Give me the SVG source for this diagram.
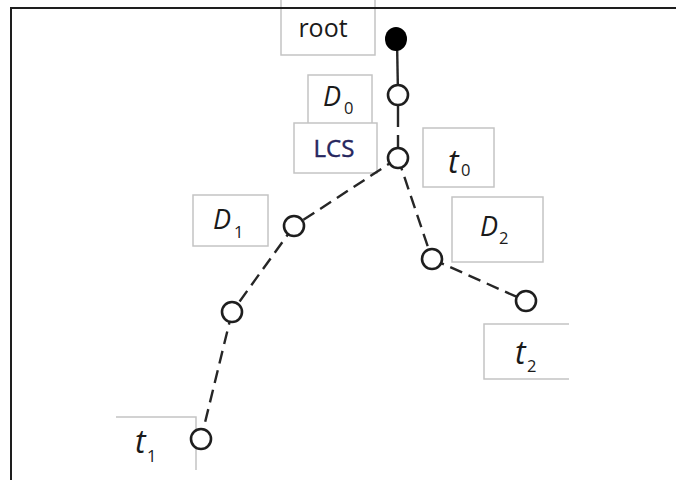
<svg xmlns="http://www.w3.org/2000/svg" width="676" height="480" viewBox="0 0 676 480">
<style>
.box{fill:#fff;stroke:#c4c4c4;stroke-width:1.5}
.open{fill:none;stroke:#c4c4c4;stroke-width:1.5}
.node{fill:#fff;stroke:#1e1e1e;stroke-width:2.6}
.edge{fill:none;stroke:#262626;stroke-width:2.4}
.dash{stroke-dasharray:13 7}
.lbl{font-family:"Open Sans","DejaVu Sans",sans-serif;fill:#1a1a1a}
.big{font-size:25px}
.D{font-size:27px;font-style:italic}
.t{font-size:32px;font-style:italic}
.sub{font-size:16.5px}
.lcs{font-size:24px;fill:#26265e;stroke:#26265e;stroke-width:0.4}
</style>
<rect width="676" height="480" fill="#fff"/>
<g id="root-label"><path class="open" d="M281,-2 V55 H375 V-2"/><text class="lbl big" x="323" y="37" text-anchor="middle">root</text></g>
<g id="D0-label"><rect class="box" x="308" y="75" width="64" height="60"/><text class="lbl D" x="323" y="106">D</text><text class="lbl sub" x="344" y="114">0</text></g>
<g id="LCS-label"><rect class="box" x="294" y="123" width="83" height="50"/><text class="lbl lcs" x="334" y="157" text-anchor="middle">LCS</text></g>
<g id="t0-label"><rect class="box" x="423" y="128" width="71" height="59"/><text class="lbl t" x="448" y="173">t</text><text class="lbl sub" x="461" y="176">0</text></g>
<g id="D1-label"><rect class="box" x="193" y="195" width="75" height="51"/><text class="lbl D" x="213" y="229">D</text><text class="lbl sub" x="234" y="238">1</text></g>
<g id="D2-label"><rect class="box" x="452" y="197" width="91" height="65"/><text class="lbl D" x="480" y="236">D</text><text class="lbl sub" x="499" y="244">2</text></g>
<g id="t2-label"><path class="open" d="M569,324 H484 V379 H569"/><text class="lbl t" x="515" y="364">t</text><text class="lbl sub" x="527" y="372">2</text></g>
<g id="t1-label"><path class="open" d="M116,417 H196 V470"/><text class="lbl t" x="135" y="453">t</text><text class="lbl sub" x="147" y="462">1</text></g>
<g id="connectors">
<line class="edge" x1="397" y1="40" x2="398" y2="95"/>
<line class="edge" x1="398" y1="106" x2="398" y2="127"/>
<line class="edge" x1="398" y1="135" x2="398" y2="158"/>
<line class="edge dash" x1="398" y1="158" x2="294" y2="226"/>
<line class="edge dash" x1="294" y1="226" x2="232" y2="312"/>
<line class="edge dash" x1="232" y1="312" x2="201" y2="439"/>
<line class="edge dash" x1="398" y1="158" x2="432" y2="259"/>
<line class="edge dash" x1="432" y1="259" x2="526" y2="301"/>
</g>
<g id="border"><path d="M11,480 V8 H676" fill="none" stroke="#1e1e1e" stroke-width="2"/></g>
<g id="n-root"><ellipse cx="396" cy="39" rx="11" ry="12" fill="#000"/></g>
<g id="n-D0"><circle class="node" cx="398" cy="95" r="10"/></g>
<g id="n-LCS"><circle class="node" cx="398" cy="158" r="10"/></g>
<g id="n-D1"><circle class="node" cx="294" cy="226" r="10"/></g>
<g id="n-mid"><circle class="node" cx="232" cy="312" r="10"/></g>
<g id="n-t1"><circle class="node" cx="201" cy="439" r="10"/></g>
<g id="n-D2"><circle class="node" cx="432" cy="259" r="10"/></g>
<g id="n-t2"><circle class="node" cx="526" cy="301" r="10"/></g>
</svg>
